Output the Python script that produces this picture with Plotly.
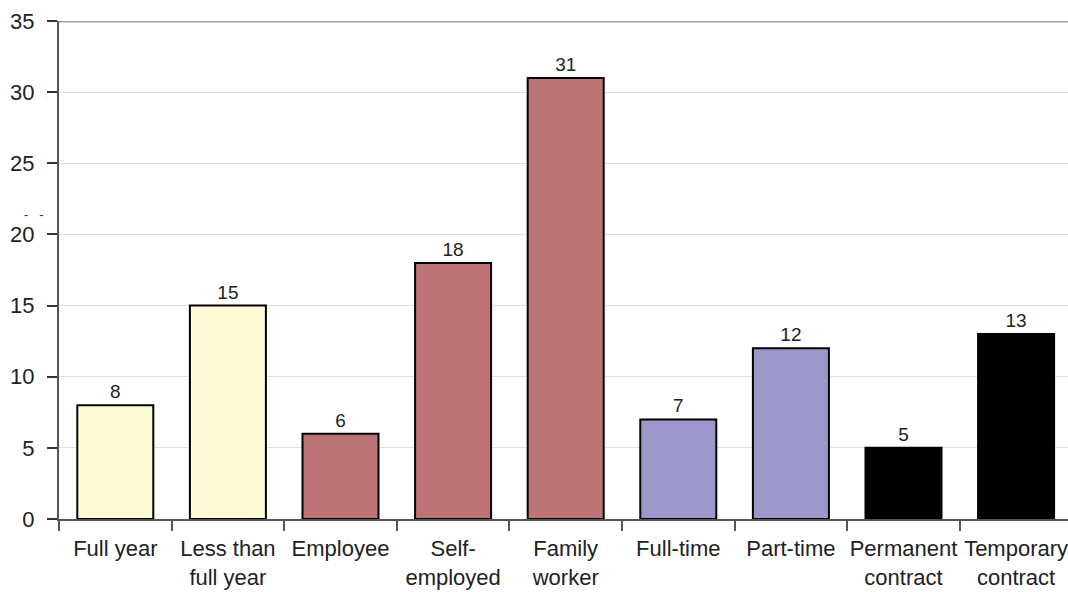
import plotly.graph_objects as go

categories = ["Full year", "Less than<br>full year", "Employee", "Self-<br>employed",
              "Family<br>worker", "Full-time", "Part-time", "Permanent<br>contract",
              "Temporary<br>contract"]
values = [8, 15, 6, 18, 31, 7, 12, 5, 13]
bar_colors = ["#FFFAD6", "#FFFAD6", "#BC7476", "#BC7476", "#BC7476",
              "#9C98CB", "#9C98CB", "#000000", "#000000"]
y_ticks = [0, 5, 10, 15, 20, 25, 30, 35]

font = "Liberation Sans, Arial, sans-serif"

fig = go.Figure(go.Bar(
    x=categories,
    y=values,
    marker=dict(color=bar_colors, line=dict(color="#000000", width=2)),
    text=[str(v) for v in values],
    textposition="outside",
    textfont=dict(family=font, size=19, color="#222222"),
    cliponaxis=False,
    width=0.675,
))

fig.update_layout(
    width=1068, height=592,
    margin=dict(l=59, r=0, t=21, b=73, autoexpand=False),
    plot_bgcolor="white", paper_bgcolor="white",
    showlegend=False,
    font=dict(family=font, size=22, color="#222222"),
    xaxis=dict(
        type="category",
        range=[-0.5, 8.461],
        tickson="boundaries",
        tickangle=0,
        automargin=False,
        ticks="outside", ticklen=10, tickwidth=1.5, tickcolor="#555555",
        ticklabelstandoff=9,
        showline=True, linecolor="#555555", linewidth=2,
        showgrid=False, zeroline=False,
        tickfont=dict(family=font, size=22, color="#222222"),
    ),
    yaxis=dict(
        range=[0, 35],
        tickvals=y_ticks,
        automargin=False,
        ticks="outside", ticklen=10, tickwidth=1.5, tickcolor="#333333",
        ticklabelstandoff=8,
        showline=True, linecolor="#555555", linewidth=2,
        showgrid=True, gridcolor="#E2DEDE", gridwidth=1,
        zeroline=False,
        tickfont=dict(family=font, size=22, color="#222222"),
    ),
    shapes=[dict(type="line", xref="paper", yref="y", x0=0, x1=1, y0=35, y1=35,
                 line=dict(color="#A8A0A0", width=3))],
    annotations=[dict(text="-\u00a0\u00a0\u00a0-", xref="paper", yref="y",
                      x=-0.0366, y=21.4,
                      showarrow=False, font=dict(family=font, size=13, color="#333333"))],
)

fig.write_html("out.html")
